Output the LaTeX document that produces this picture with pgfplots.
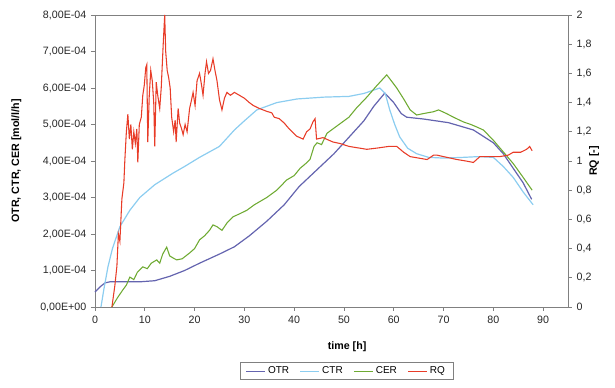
\documentclass[border=0pt]{standalone}
\usepackage{fontspec}
\setmainfont{Liberation Sans}
\usepackage{pgfplots}
\pgfplotsset{compat=1.18}
\definecolor{otrc}{RGB}{100,100,175}
\definecolor{ctrc}{RGB}{140,205,240}
\definecolor{cerc}{RGB}{110,170,50}
\definecolor{rqc}{RGB}{232,60,40}
\definecolor{axc}{RGB}{128,128,128}
\begin{document}
\begin{tikzpicture}
\path (-71.25pt,-60.75pt) rectangle (390pt,230.25pt);
\begin{axis}[
  scale only axis, width=354.75pt, height=219pt,
  xmin=0, xmax=95, ymin=0, ymax=8e-4,
  xtick={0,10,...,90},
  ytick={0,1e-4,2e-4,3e-4,4e-4,5e-4,6e-4,7e-4,8e-4},
  yticklabels={{0,00E+00},{1,00E-04},{2,00E-04},{3,00E-04},{4,00E-04},{5,00E-04},{6,00E-04},{7,00E-04},{8,00E-04}},
  scaled y ticks=false,
  /pgf/number format/assume math mode=true,
  tick label style={font=\fontsize{8}{9}\selectfont, text=black!85},
  tick align=outside, major tick length=3pt,
  tick style={axc, line width=0.5pt},
  xtick pos=bottom, ytick pos=left,
  axis line style={axc, line width=0.7pt},
  xlabel={\textbf{time [h]}},
  xlabel style={at={(axis description cs:0.533,-0.137)}, anchor=center, font=\fontsize{8}{9}\selectfont},
  ylabel={\textbf{OTR, CTR, CER [mol/l/h]}},
  ylabel style={at={(axis description cs:-0.166,0.5)}, anchor=center, font=\fontsize{8}{9}\selectfont},
  legend columns=4,
  legend style={at={(0.532,-0.19)}, anchor=north, draw=axc, line width=0.6pt,
    font=\fontsize{7.5}{9}\selectfont, inner xsep=4pt, inner ysep=1pt,
    /tikz/every even column/.append style={column sep=6pt}},
  legend image code/.code={\draw[#1, line width=0.8pt] (0pt,0pt) -- (14pt,0pt);},
  clip=false,
]
\addplot[otrc, line width=0.9pt] coordinates {
(0,0.41e-4) (1,0.55e-4) (2,0.66e-4) (3,0.69e-4) (5,0.69e-4) (9,0.69e-4) (12,0.72e-4)
(15,0.84e-4) (18,1.0e-4) (21,1.2e-4) (25,1.45e-4) (28,1.65e-4) (31,1.95e-4)
(34.5,2.35e-4) (38,2.8e-4) (41,3.3e-4) (44.5,3.75e-4) (48,4.2e-4) (51,4.65e-4)
(54,5.1e-4) (56,5.5e-4) (58.2,5.86e-4) (60,5.6e-4) (61.5,5.3e-4) (62.6,5.2e-4)
(66,5.15e-4) (71,5.05e-4) (76,4.85e-4) (80,4.5e-4) (82,4.2e-4) (84,3.8e-4) (86,3.4e-4) (87.7,2.95e-4)
};
\addlegendentry{OTR}
\addplot[ctrc, line width=0.9pt] coordinates {
(1.2,0) (1.8,0.5e-4) (2.6,1.1e-4) (3.5,1.6e-4) (5,2.2e-4) (7,2.65e-4) (9,3.0e-4)
(12,3.35e-4) (15.7,3.67e-4) (18,3.85e-4) (21,4.1e-4) (25,4.4e-4) (28,4.85e-4)
(30,5.1e-4) (32.5,5.4e-4) (36.5,5.6e-4) (40.6,5.7e-4) (46,5.75e-4) (51,5.77e-4)
(54,5.85e-4) (57.2,6.0e-4) (58.3,5.85e-4) (59.2,5.4e-4) (60.2,5.0e-4) (61.2,4.66e-4)
(62.8,4.35e-4) (64.6,4.2e-4) (67,4.1e-4) (70,4.08e-4) (74,4.1e-4) (77,4.12e-4)
(80,4.1e-4) (82,3.85e-4) (84,3.55e-4) (86,3.15e-4) (88,2.8e-4)
};
\addlegendentry{CTR}
\addplot[cerc, line width=0.8pt] coordinates {
(3.4,0) (4.5,0.25e-4) (5.6,0.47e-4) (6.3,0.6e-4) (7,0.82e-4) (7.8,0.75e-4) (8.5,0.95e-4)
(9.6,1.1e-4) (10.5,1.05e-4) (11.3,1.2e-4) (12.4,1.29e-4) (13.0,1.2e-4) (13.6,1.45e-4)
(14.4,1.64e-4) (15.0,1.4e-4) (15.6,1.35e-4) (16.4,1.29e-4) (17.5,1.32e-4) (19,1.48e-4)
(20,1.6e-4) (21,1.84e-4) (22,1.95e-4) (23,2.1e-4) (23.7,2.25e-4) (24.5,2.2e-4)
(25.5,2.1e-4) (26.5,2.3e-4) (27.7,2.47e-4) (29,2.55e-4) (30.5,2.65e-4) (32,2.8e-4)
(34.5,3.0e-4) (36.5,3.2e-4) (38.5,3.48e-4) (40,3.6e-4) (41.2,3.8e-4) (42.5,3.95e-4)
(43.2,4.05e-4) (44,4.4e-4) (44.6,4.5e-4) (45.5,4.45e-4) (46.6,4.76e-4) (48,4.9e-4)
(49.5,5.05e-4) (51,5.2e-4) (52.5,5.45e-4) (54.6,5.75e-4) (56.5,6.05e-4) (58.6,6.36e-4)
(59.5,6.2e-4) (60.6,6.0e-4) (62,5.7e-4) (63.3,5.4e-4) (64.6,5.26e-4) (66,5.3e-4)
(68,5.35e-4) (69,5.4e-4) (70.6,5.3e-4) (72,5.2e-4) (74,5.07e-4) (75.5,5.0e-4)
(76.7,4.93e-4) (78,4.85e-4) (80,4.57e-4) (82,4.25e-4) (84,3.93e-4) (86,3.55e-4) (87.8,3.2e-4)
};
\addlegendentry{CER}
\addlegendimage{rqc}
\addlegendentry{RQ}
\end{axis}
\begin{axis}[
  scale only axis, width=354.75pt, height=219pt,
  xmin=0, xmax=95, ymin=0, ymax=2,
  axis x line=none, axis y line*=right,
  ytick={0,0.2,...,2},
  yticklabels={0,{0,2},{0,4},{0,6},{0,8},1,{1,2},{1,4},{1,6},{1,8},2},
  tick label style={font=\fontsize{8}{9}\selectfont, text=black!85},
  tick align=outside, major tick length=3pt,
  tick style={axc, line width=0.5pt},
  axis line style={axc, line width=0.7pt},
  ylabel={\textbf{RQ [-]}},
  ylabel style={at={(axis description cs:1.055,0.5)}, anchor=center, font=\fontsize{8}{9}\selectfont},
  clip=false,
]
\addplot[rqc, line width=0.8pt] coordinates {
(3.4,0) (4.0,0.15) (4.4,0.28) (4.7,0.5) (5.0,0.45) (5.4,0.74) (5.8,0.85) (6.0,1.01)
(6.3,1.2) (6.6,1.32) (6.9,1.15) (7.2,1.25) (7.5,1.08) (7.8,1.2) (8.1,1.12) (8.4,1.22)
(8.6,0.99) (8.9,1.25) (9.3,1.3) (9.6,1.45) (9.9,1.52) (10.2,1.64) (10.4,1.66) (10.6,1.13)
(10.9,1.45) (11.2,1.62) (11.5,1.55) (11.8,1.4) (12.0,1.1) (12.3,1.54) (12.6,1.45)
(13.0,1.36) (13.3,1.5) (13.7,1.8) (14.0,2.0) (14.2,1.75) (14.5,1.62) (14.8,1.57)
(15.1,1.5) (15.4,1.3) (15.8,1.2) (16.1,1.28) (16.3,1.13) (16.7,1.36) (17.0,1.26)
(17.4,1.22) (17.7,1.18) (18.1,1.25) (18.5,1.2) (19.0,1.36) (19.4,1.42) (19.7,1.47)
(20.1,1.38) (20.5,1.55) (21.0,1.6) (21.4,1.52) (21.7,1.45) (22.1,1.6) (22.4,1.68)
(22.8,1.6) (23.2,1.62) (23.7,1.7) (24.1,1.62) (24.5,1.55) (25.0,1.42) (25.5,1.35)
(26.0,1.43) (26.5,1.47) (27.2,1.45) (28.0,1.47) (29.0,1.45) (30.0,1.43) (31.0,1.4)
(31.8,1.38) (33.0,1.36) (34.5,1.34) (35.5,1.33) (36.0,1.3) (37.0,1.29) (38.0,1.26)
(39.0,1.22) (40.5,1.17) (41.8,1.15) (42.5,1.2) (43.2,1.22) (43.8,1.27) (44.2,1.29)
(44.5,1.15) (45.8,1.16) (47.8,1.13) (49.2,1.12) (51,1.1) (54.6,1.08) (57,1.09)
(59,1.1) (60.6,1.1) (62,1.06) (63.3,1.03) (65,1.02) (66.7,1.01) (68,1.04) (68.7,1.04)
(70,1.03) (72.7,1.01) (74.5,1.0) (76,0.99) (77.3,1.03) (79,1.03) (81.3,1.03) (83,1.04)
(84,1.06) (85.5,1.06) (86.7,1.08) (87.3,1.1) (87.8,1.07)
};
\end{axis}
\end{tikzpicture}
\end{document}
